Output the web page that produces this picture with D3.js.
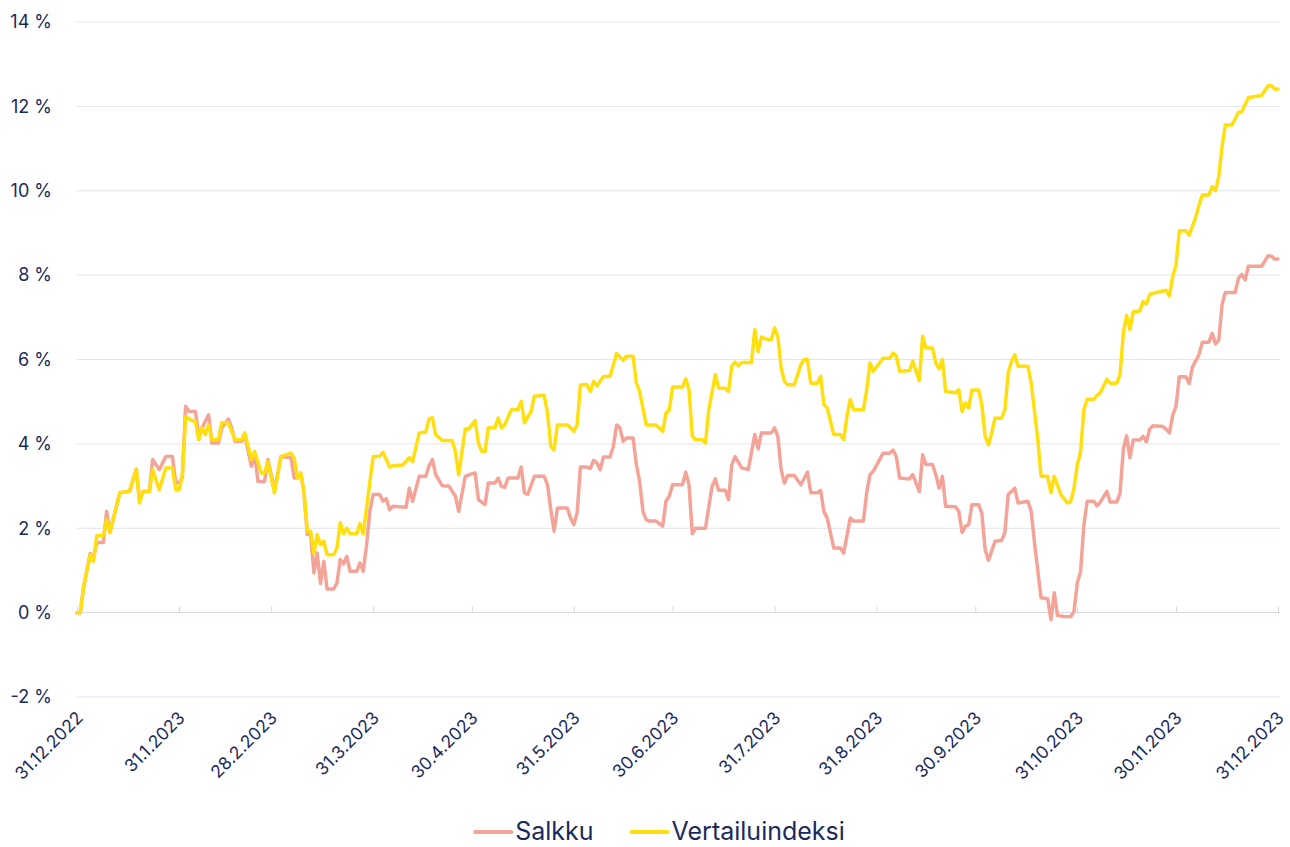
<!DOCTYPE html>
<html>
<head>
<meta charset="utf-8">
<script src="https://cdnjs.cloudflare.com/ajax/libs/d3/7.8.5/d3.min.js"></script>
<style>
  body { margin: 0; background: #fff; }
  svg text { font-family: Inter, "Open Sans", sans-serif; fill: #1b2a5c; }
</style>
</head>
<body>
<div id="chart"></div>
<script>
// aikasarjan alku, päivät lasketaan tästä
const startDate = new Date(2022, 11, 31);

// x-akselin tikit (kuukauden viimeinen päivä)
const tickDates = [
  [2022, 12, 31], [2023, 1, 31], [2023, 2, 28], [2023, 3, 31], [2023, 4, 30],
  [2023, 5, 31], [2023, 6, 30], [2023, 7, 31], [2023, 8, 31], [2023, 9, 30],
  [2023, 10, 31], [2023, 11, 30], [2023, 12, 31]
];
const tickLabels = [
  "31.12.2022", "31.1.2023", "28.2.2023", "31.3.2023", "30.4.2023", "31.5.2023",
  "30.6.2023", "31.7.2023", "31.8.2023", "30.9.2023", "31.10.2023", "30.11.2023", "31.12.2023"
];
const yTicks = [-2, 0, 2, 4, 6, 8, 10, 12, 14];

const seriesNames = ["Salkku", "Vertailuindeksi"];
const seriesColors = ["#f4a398", "#ffdf0f"];

// Salkku: päivä alusta, tuotto %
const salkkuDays = [0,1,2,4,5,6,8,9,10,13,16,18,19,20,22,23,25,27,29,30,31,32,33,34,36,37,38,40,41,43,44,46,47,48,50,51,53,54,55,57,58,60,62,65,66,67,68,69,70,71,72,73,74,75,76,78,79,80,81,82,83,85,86,87,88,89,90,92,93,94,95,96,100,101,102,104,106,107,108,109,111,113,115,116,118,120,121,122,124,125,127,128,129,130,131,134,135,136,137,139,142,143,144,145,146,149,150,151,152,153,155,156,157,158,159,160,162,163,164,165,166,167,169,170,171,172,173,174,176,178,179,180,181,184,185,186,187,188,191,192,193,194,195,197,198,199,200,202,204,206,207,208,211,212,213,214,215,216,218,220,222,223,225,226,227,228,230,232,233,235,236,239,240,241,242,245,247,248,249,250,253,254,256,257,258,260,261,262,263,264,267,268,269,270,271,272,274,275,276,277,279,281,282,283,285,286,289,290,291,293,295,296,297,298,300,302,303,304,305,306,307,309,310,311,313,314,316,317,318,319,320,321,323,324,325,326,327,330,331,332,333,334,335,337,338,339,341,342,344,345,346,347,348,349,352,353,354,355,356,360,361,362,363,364,365];
const salkku = [0,0,0.6,1.4,1.3,1.66,1.66,2.4,1.9,2.84,2.88,3.4,2.65,2.87,2.87,3.63,3.39,3.7,3.7,3.08,3.08,3.2,4.89,4.77,4.77,4.18,4.38,4.69,4.02,4.02,4.38,4.59,4.38,4.06,4.06,4.2,3.47,3.75,3.11,3.11,3.63,2.9,3.7,3.67,3.19,3.19,3.31,2.84,1.85,1.85,0.94,1.41,0.69,1.22,0.56,0.56,0.7,1.26,1.15,1.33,0.98,0.98,1.18,0.98,1.6,2.4,2.8,2.8,2.64,2.7,2.44,2.52,2.5,2.95,2.64,3.23,3.23,3.48,3.63,3.27,3.01,3.0,2.76,2.4,3.23,3.29,3.31,2.68,2.56,3.07,3.07,3.19,2.99,2.97,3.19,3.19,3.45,2.84,2.8,3.23,3.23,3.03,2.44,1.93,2.48,2.48,2.24,2.09,2.36,3.45,3.45,3.42,3.61,3.55,3.39,3.69,3.69,3.94,4.45,4.38,4.06,4.14,4.14,3.51,3.11,2.4,2.2,2.17,2.17,2.05,2.64,2.76,3.03,3.03,3.33,3.03,1.87,2.0,2.0,2.5,2.99,3.17,2.9,2.9,2.68,3.5,3.7,3.43,3.39,4.22,3.88,4.26,4.26,4.38,4.18,3.39,3.07,3.25,3.25,3.03,3.33,2.84,2.84,2.9,2.4,2.24,1.53,1.53,1.41,2.24,2.17,2.17,2.84,3.27,3.35,3.78,3.78,3.85,3.7,3.19,3.17,3.27,2.87,3.74,3.51,3.51,3.27,2.95,3.23,2.52,2.51,2.4,1.9,2.05,2.08,2.56,2.56,2.36,1.49,1.24,1.69,1.71,1.9,2.8,2.95,2.6,2.64,2.4,1.65,0.35,0.33,-0.17,0.47,-0.07,-0.09,-0.1,0.03,0.7,0.97,2.07,2.64,2.64,2.53,2.62,2.87,2.62,2.62,2.83,3.88,4.19,3.67,4.09,4.09,4.18,4.05,4.35,4.43,4.41,4.35,4.26,4.68,4.89,5.59,5.59,5.43,5.82,6.12,6.41,6.41,6.62,6.37,6.46,7.3,7.59,7.59,7.93,8.02,7.89,8.21,8.21,8.33,8.46,8.45,8.38,8.38];

// Vertailuindeksi: päivä alusta, tuotto %
const indeksiDays = [0,1,2,4,5,6,8,9,10,13,16,18,19,20,22,23,25,27,29,30,31,32,33,35,36,37,38,39,40,41,43,44,46,48,50,51,53,54,56,57,58,60,62,65,66,67,68,69,70,71,72,73,74,75,76,78,79,80,81,82,83,85,86,87,90,92,93,95,96,99,101,102,104,106,107,108,109,111,114,115,116,118,119,121,122,123,124,125,127,128,129,130,132,134,135,136,138,139,142,143,144,145,146,149,150,151,152,153,155,156,157,158,160,162,164,166,167,169,170,171,173,176,178,179,180,181,184,185,186,187,188,190,191,192,194,195,197,198,199,200,201,202,205,206,207,208,210,211,212,213,214,215,216,218,220,221,222,223,225,226,227,228,230,232,233,234,235,236,239,240,241,242,245,247,248,249,250,253,254,256,257,258,260,261,262,263,264,267,268,269,270,271,272,274,275,276,277,278,279,281,282,283,284,285,286,289,290,292,293,295,296,297,299,301,302,303,304,305,306,307,309,310,311,313,314,316,317,318,319,320,321,323,324,325,326,328,331,332,333,334,335,337,338,340,341,342,344,345,346,347,348,349,351,353,354,356,360,362,363,364,365];
const indeksi = [0,0,0.6,1.37,1.22,1.82,1.82,2.2,1.9,2.84,2.88,3.4,2.6,2.87,2.87,3.39,2.91,3.43,3.43,2.91,2.91,3.23,4.65,4.55,4.53,4.1,4.38,4.22,4.45,4.1,4.1,4.5,4.5,4.1,4.1,4.26,3.63,3.82,3.31,3.31,3.58,2.84,3.7,3.78,3.67,3.19,3.31,2.84,1.93,1.93,1.41,1.85,1.61,1.69,1.37,1.37,1.53,2.13,1.87,2.0,1.87,1.87,2.11,1.87,3.7,3.7,3.8,3.45,3.48,3.5,3.67,3.58,4.26,4.28,4.59,4.62,4.22,4.08,4.08,3.82,3.27,4.35,4.35,4.55,4.02,3.82,3.82,4.38,4.38,4.61,4.38,4.45,4.81,4.81,5.01,4.5,4.77,5.13,5.15,4.73,3.94,3.86,4.45,4.45,4.38,4.3,4.45,5.4,5.4,5.24,5.48,5.37,5.6,5.6,6.14,5.98,6.08,6.08,5.44,5.24,4.45,4.45,4.3,4.73,4.8,5.35,5.35,5.54,5.28,4.18,4.1,4.1,4.02,4.81,5.64,5.32,5.32,5.24,5.84,5.94,5.85,5.93,5.93,6.71,6.19,6.53,6.47,6.47,6.75,6.55,5.8,5.48,5.4,5.4,5.88,6.0,6.0,5.44,5.44,5.6,4.93,4.85,4.22,4.22,4.1,4.65,5.05,4.81,4.81,5.28,5.92,5.72,6.03,6.03,6.15,6.08,5.72,5.74,5.96,5.5,6.55,6.27,6.27,5.92,5.78,6.0,5.24,5.21,5.28,4.77,4.97,4.85,5.28,5.28,4.93,4.18,3.98,4.26,4.61,4.61,4.81,5.68,5.95,6.11,5.84,5.84,5.44,4.1,3.23,3.23,2.84,3.23,2.8,2.6,2.63,2.95,3.5,3.8,4.81,5.06,5.06,5.15,5.21,5.53,5.44,5.44,5.65,6.62,7.05,6.71,7.13,7.15,7.37,7.32,7.54,7.59,7.64,7.51,7.97,8.23,9.05,9.05,8.95,9.37,9.66,9.9,9.9,10.1,10.0,10.34,11.05,11.56,11.56,11.86,11.87,12.21,12.26,12.49,12.49,12.41,12.41];

const width = 1290;
const height = 847;
const margin = { top: 22, right: 12, bottom: 150, left: 77 };

const svg = d3.select("#chart")
  .append("svg")
  .attr("width", width)
  .attr("height", height);

const toDate = d => d3.timeDay.offset(startDate, d);

const xScale = d3.scaleTime()
  .domain([startDate, toDate(365)])
  .range([margin.left, width - margin.right]);

const yScale = d3.scaleLinear()
  .domain([-2, 14])
  .range([height - margin.bottom, margin.top]);

// vaakaviivat
svg.append("g")
  .selectAll("line")
  .data(yTicks.filter(v => v !== 0))
  .enter()
  .append("line")
  .attr("x1", margin.left)
  .attr("x2", width - margin.right + 2)
  .attr("y1", d => yScale(d))
  .attr("y2", d => yScale(d))
  .attr("stroke", "#dfe4f0")
  .attr("stroke-width", 1);

// y-akseli
const yAxis = d3.axisLeft(yScale)
  .tickValues(yTicks)
  .tickSize(0)
  .tickPadding(25)
  .tickFormat(d => d + " %");
svg.append("g")
  .attr("transform", `translate(${margin.left},0)`)
  .call(yAxis)
  .call(g => g.select(".domain").remove())
  .selectAll("text")
  .style("font-size", "18px");

// nollaviiva ja kuukausitikit
const tickDateObjs = tickDates.map(t => new Date(t[0], t[1] - 1, t[2]));
const xAxis = d3.axisTop(xScale)
  .tickValues(tickDateObjs)
  .tickSize(6)
  .tickFormat("");
svg.append("g")
  .attr("transform", `translate(0,${yScale(0)})`)
  .call(xAxis)
  .call(g => g.select(".domain").attr("stroke", "#d4d7df").attr("d", `M${margin.left},0H${width - margin.right + 2}`))
  .call(g => g.selectAll(".tick line").attr("stroke", "#d4d7df"));

// päivämäärät vinossa -2 % viivan alla
svg.append("g")
  .selectAll("text")
  .data(tickDateObjs)
  .enter()
  .append("text")
  .attr("transform", d => `translate(${xScale(d) + 7},${yScale(-2) + 22}) rotate(-45)`)
  .attr("text-anchor", "end")
  .style("font-size", "17.5px")
  .text((d, i) => tickLabels[i]);

// viivat
const line = d3.line()
  .x(d => xScale(toDate(d[0])))
  .y(d => yScale(d[1]));

const allSeries = [
  d3.zip(salkkuDays, salkku),
  d3.zip(indeksiDays, indeksi)
];

svg.append("g")
  .selectAll("path")
  .data(allSeries)
  .enter()
  .append("path")
  .attr("d", line)
  .attr("fill", "none")
  .attr("stroke", (d, i) => seriesColors[i])
  .attr("stroke-width", 3.5)
  .attr("stroke-linejoin", "round")
  .attr("stroke-linecap", "round");

// selite
const legend = svg.append("g");
const legendY = 832;
const swatch = 36;
let lx = 0;
seriesNames.forEach((name, i) => {
  const item = legend.append("g").attr("transform", `translate(${lx},0)`);
  item.append("line")
    .attr("x1", 0).attr("x2", swatch)
    .attr("y1", legendY).attr("y2", legendY)
    .attr("stroke", seriesColors[i])
    .attr("stroke-width", 4)
    .attr("stroke-linecap", "round");
  const t = item.append("text")
    .attr("x", swatch + 4)
    .attr("y", legendY + 8)
    .style("font-size", "25px")
    .text(name);
  lx += swatch + 4 + t.node().getComputedTextLength() + 38;
});
const legendW = lx - 38;
legend.attr("transform", `translate(${660 - legendW / 2},0)`);
</script>
</body>
</html>
